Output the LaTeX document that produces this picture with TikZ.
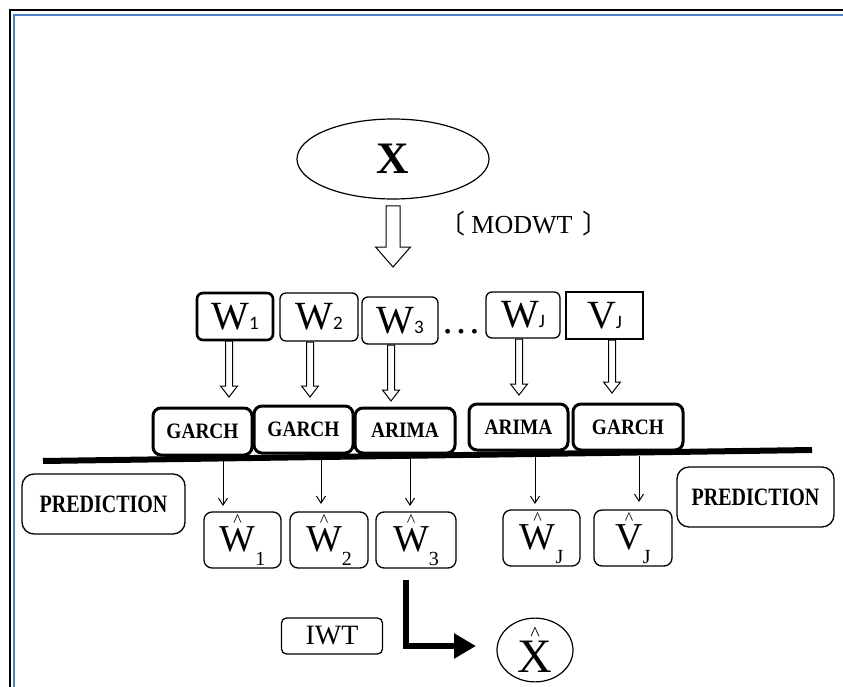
\documentclass[tikz,border=0pt]{standalone}
\usepackage{fontspec}
\setmainfont{Liberation Serif}
\newfontfamily\subsans{Carlito}
\newfontfamily\cjkfont{Noto Sans CJK SC}
\usetikzlibrary{shapes.geometric,arrows.meta}
\definecolor{frameblue}{HTML}{4F81BD}
\newcommand\setfs[1]{\fontsize{#1}{#1}\selectfont}
\newsavebox\hatbox
\newcommand\hatted[4]{% letter, letter size, hat size, hat raise
  \sbox\hatbox{\setfs{#2}#1}%
  \rlap{\hbox to \wd\hatbox{\hss\raisebox{#4}{\setfs{#3}\textasciicircum}\hss}}\usebox\hatbox}
\newcommand\hatletter[2]{\hatted{#1}{38}{18}{25pt}\raisebox{-14pt}{\setfs{20}#2}}
\newcommand\wlab[2]{{\setfs{40}#1}{\subsans\setfs{19}#2}}
\newcommand\boldlab[3]{\scalebox{#1}[1]{\setfs{#2}\bfseries #3}}
\newcommand\hollowarrow[6]{%
  \draw[line width=1pt, fill=white]
    ({#1-#4/2},{#2}) -- ({#1+#4/2},{#2}) -- ({#1+#4/2},{#3-#6}) -- ({#1+#5/2},{#3-#6})
    -- ({#1},{#3}) -- ({#1-#5/2},{#3-#6}) -- ({#1-#4/2},{#3-#6}) -- cycle;}
\tikzset{
  wbox/.style={draw, rounded corners=6pt, line width=1.3pt, inner sep=0pt, minimum width=76pt, minimum height=47pt},
  mbox/.style={draw, rounded corners=8pt, line width=3pt, inner sep=0pt, minimum height=46pt},
  hbox/.style={draw, rounded corners=8pt, line width=1.3pt, inner sep=0pt, minimum width=78pt, minimum height=56pt},
  pbox/.style={draw, rounded corners=12pt, line width=1.3pt, inner sep=0pt, minimum height=60pt},
  tarrow/.style={line width=1pt, -{Straight Barb[length=7pt,width=9pt]}},
}
\begin{document}
\begin{tikzpicture}[x=1pt,y=-1pt]
\useasboundingbox (0,0) rectangle (843,687);
% frame
\draw[line width=2pt] (10,687) -- (10,10) -- (843,10);
\draw[line width=2pt, frameblue] (14,687) -- (14,15) -- (843,15);

% top
\node[ellipse, draw, line width=1.2pt, minimum width=192pt, minimum height=80pt, inner sep=0pt] (x) at (393,159) {\setfs{45}\bfseries X};
\hollowarrow{393}{206}{267}{14}{35}{20}
\node (modwt) at (524,224) {\setfs{26}{\cjkfont 〔}\hspace{6pt}MODWT\hspace{10pt}{\cjkfont 〕}};

% W row
\node[wbox, line width=2.6pt] (w1) at (235,316.5) {\wlab{W}{1}};
\node[wbox, minimum width=78pt, minimum height=48pt] (w2) at (319,317) {\wlab{W}{2}};
\node[wbox] (w3) at (400,320.5) {\wlab{W}{3}};
\node[anchor=base, inner sep=0pt] (dots) at (461,333) {\setfs{40}\ldots};
\node[wbox, minimum width=74pt, minimum height=46pt] (wj) at (523,315) {\wlab{W}{J}};
\node[wbox, sharp corners, minimum width=77pt] (vj) at (604.5,315.5) {\wlab{V}{J}};

\hollowarrow{229}{341}{397}{7}{17}{11}
\hollowarrow{310}{342}{397}{7}{17}{11}
\hollowarrow{391}{345}{401}{7}{17}{11}
\hollowarrow{519}{339}{395}{7}{17}{11}
\hollowarrow{612}{340}{393}{7}{17}{11}

% model row
\coordinate (la) at (43,461);
\coordinate (lb) at (812,450);
\node[mbox, minimum width=99pt, minimum height=47pt] (g1) at (202.5,431.5) {\boldlab{0.88}{22}{GARCH}};
\node[mbox, minimum width=99pt, minimum height=47pt] (g2) at (303.5,429.5) {\boldlab{0.88}{22}{GARCH}};
\node[mbox, minimum width=100pt, minimum height=45pt] (a1) at (405,430.5) {\boldlab{0.88}{22}{ARIMA}};
\node[mbox, minimum width=99pt] (a2) at (518.5,427) {\boldlab{0.88}{22}{ARIMA}};
\node[mbox, minimum width=110pt] (g3) at (628,427) {\boldlab{0.88}{22}{GARCH}};
\draw[line width=6pt] (la) -- (lb);

% predictions
\draw[tarrow] (223,460) -- (223,506);
\draw[tarrow] (321,459) -- (321,504);
\draw[tarrow] (410,458) -- (410,506);
\draw[tarrow] (535,457) -- (535,504);
\draw[tarrow] (639,456) -- (639,502);

\node[pbox, minimum width=163pt] (p1) at (103.5,504) {\boldlab{0.8}{25}{PREDICTION}};
\node[pbox, minimum width=157pt] (p2) at (755.5,497) {\boldlab{0.8}{25}{PREDICTION}};

\node[hbox, minimum width=77pt] (hw1) at (242.5,540) {\hatletter{W}{1}};
\node[hbox] (hw2) at (329,540) {\hatletter{W}{2}};
\node[hbox, minimum width=80pt] (hw3) at (416,540) {\hatletter{W}{3}};
\node[hbox, minimum width=77pt] (hwj) at (541.5,538) {\hatletter{W}{J}};
\node[hbox] (hvj) at (633,538) {\hatletter{V}{J}};

% reconstruction
\node[draw, rounded corners=5pt, line width=1.3pt, minimum width=101pt, minimum height=36pt, inner sep=0pt] (iwt) at (332,636) {\setfs{28}IWT};
\node[ellipse, draw, line width=1.2pt, minimum width=76pt, minimum height=60pt, inner sep=0pt] (xh) at (535,650) {\hatted{X}{48}{20}{32pt}};
\coordinate (lstart) at (406,580);
\coordinate (lcorner) at (406,646);
\coordinate (ltip) at (476,646);
\draw[line width=6pt, -{Triangle[length=22pt,width=24pt]}] (lstart) -- (lcorner) -- (ltip);
\end{tikzpicture}
\end{document}
